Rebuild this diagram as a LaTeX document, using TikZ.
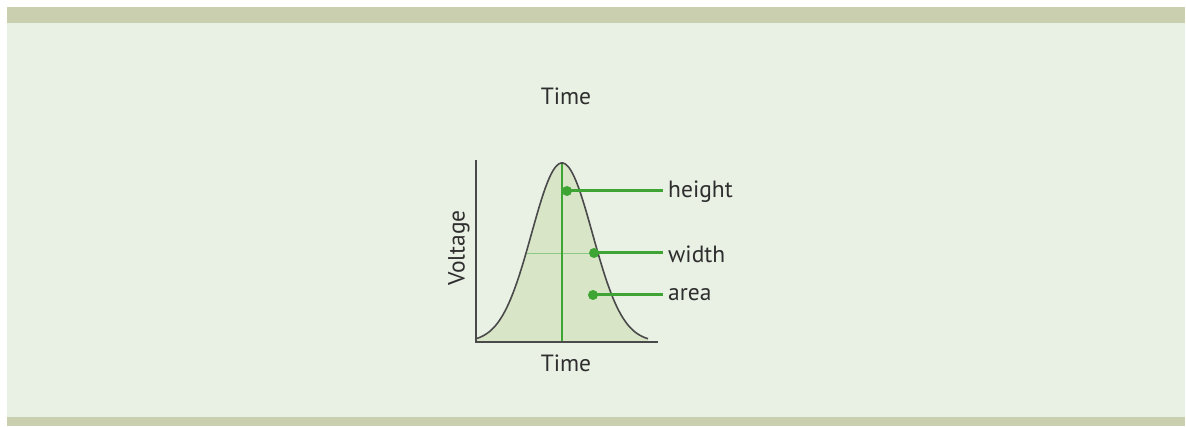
\documentclass[tikz,border=0pt]{standalone}
\usepackage{fontspec}
\setmainfont{PT Sans}
\definecolor{panelbg}{HTML}{E9F0E4}
\definecolor{bandgreen}{HTML}{C9CFAF}
\definecolor{pulsefill}{HTML}{D8E5C6}
\definecolor{leadgreen}{HTML}{3EA535}
\definecolor{axisgray}{HTML}{4A4A4A}
\tikzset{
  lbl/.style={font=\fontsize{23.5}{28}\selectfont, text=black!82, inner sep=0pt},
  leader/.style={leadgreen, line width=3pt},
  dotmark/.style={circle, fill=leadgreen, inner sep=0pt, minimum size=10pt},
}
\begin{document}
\begin{tikzpicture}[x=1pt,y=1pt]
	\useasboundingbox (0,0) rectangle (1186,426);
	% panel and bands
	\fill[panelbg] (7,0) rectangle (1185,419);
	\fill[bandgreen] (7,403) rectangle (1185,419);
	\fill[bandgreen] (7,0) rectangle (1185,9);
	
	\node[lbl] (TTOP) at (566,330) {Time};
	
	% pulse
	\fill[pulsefill] plot[domain=476:648, samples=90] (\x, {84+179*exp(-((\x-562)^2)/1850)}) -- (648,84) -- (476,84) -- cycle;
	\draw[leadgreen!60, line width=0.7pt] (526,173) -- (597,173);
	\draw[leadgreen, line width=1.6pt] (562,84) -- (562,263);
	\draw[axisgray, line width=1.6pt] plot[domain=476:648, samples=90] (\x, {84+179*exp(-((\x-562)^2)/1850)});
	
	% axes
	\coordinate (O) at (476,84);
	\coordinate (YT) at (476,266);
	\coordinate (XR) at (658,84);
	\draw[axisgray, line width=1.8pt] (YT) -- (O) -- (XR);
	\node[lbl, rotate=90] (VOLT) at (459,178) {Voltage};
	\node[lbl] (TBOT) at (566,63) {Time};
	
	% labels with leaders
	\node[dotmark] (DH) at (567,235) {};
	\node[dotmark] (DW) at (594,173) {};
	\node[dotmark] (DA) at (593,131) {};
	\node[lbl, anchor=west] (HEIGHT) at (668,234) {height};
	\node[lbl, anchor=west] (WIDTH) at (668,172) {width};
	\node[lbl, anchor=west] (AREA) at (668,131) {area};
	\draw[leader] (DH.center) -- ([xshift=-5pt]HEIGHT.west |- DH);
	\draw[leader] (DW.center) -- ([xshift=-5pt]WIDTH.west |- DW);
	\draw[leader] (DA.center) -- ([xshift=-5pt]AREA.west |- DA);
\end{tikzpicture}
\end{document}
